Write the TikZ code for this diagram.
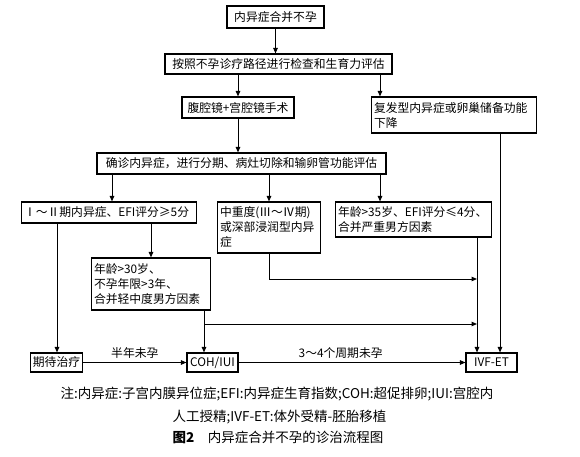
\documentclass[tikz,border=0pt]{standalone}
\usepackage{fontspec}
\setmainfont{Noto Sans CJK SC}
\usetikzlibrary{arrows.meta,positioning,calc}
\tikzset{
  box/.style={draw,line width=1.1pt,inner xsep=2.5pt,inner ysep=1pt,font=\fontsize{11.8}{15}\selectfont},
  tbox/.style={box,align=left},
  flow/.style={-{Triangle[length=5.5pt,width=4.5pt]},line width=1pt},
  lbl/.style={font=\fontsize{11.8}{14}\selectfont,inner sep=1pt},
  note/.style={font=\fontsize{13.5}{16}\selectfont,inner sep=0pt},
}

\begin{document}
\begin{tikzpicture}[x=1pt,y=-1pt]
\useasboundingbox (0,0) rectangle (580,457);
% column positions of the connectors
\coordinate (xWait) at (57,0);
\coordinate (xMild) at (112,0);
\coordinate (xCoh) at (204,0);
\coordinate (xMid) at (380,0);
\coordinate (xOld) at (477,0);
\coordinate (xRec) at (500,0);
\coordinate (hSev) at (0,279);
\coordinate (hRisk) at (0,324);

% boxes
\node[box,minimum width=97pt,minimum height=22pt] (start) at (275.5,17) {内异症合并不孕};
\node[box,minimum width=227pt,minimum height=20pt] (eval) at (278.5,64) {按照不孕诊疗路径进行检查和生育力评估};
\node[box,minimum width=112pt,minimum height=21pt] (surg) at (238,107.5) {腹腔镜+宫腔镜手术};
\node[tbox,text width=160pt,minimum height=36pt] (recur) at (454,115) {复发型内异症或卵巢储备功能\\下降};
\node[box,minimum width=289pt,minimum height=21pt] (diag) at (241.5,163.5) {确诊内异症，进行分期、病灶切除和输卵管功能评估};
\node[tbox,text width=170pt,minimum height=21pt] (mild) at (109,212.5) {Ⅰ～Ⅱ期内异症、EFI评分≥5分};
\node[tbox,text width=98pt,minimum height=51pt] (sev) at (269,227.5) {中重度(Ⅲ～Ⅳ期)\\或深部浸润型内异\\症};
\node[tbox,text width=151pt,minimum height=35pt] (old) at (413.5,219.5) {年龄>35岁、EFI评分≤4分、\\合并严重男方因素};
\node[tbox,text width=114pt,minimum height=52pt] (risk) at (151,284) {年龄>30岁、\\不孕年限>3年、\\合并轻中度男方因素};
\node[box,minimum width=51pt,minimum height=19pt] (wait) at (56.5,362.5) {期待治疗};
\node[box,minimum width=51pt,minimum height=19pt] (coh) at (212.5,362.5) {COH/IUI};
\node[box,minimum width=51pt,minimum height=19pt] (ivf) at (491.5,362.5) {IVF-ET};

% connectors
\draw[flow] (start.south) -- (start.south |- eval.north);
\draw[flow] (eval.south -| surg) -- (surg.north);
\draw[flow] (eval.south -| xMid) -- (xMid |- recur.north);
\draw[flow] (surg.south) -- (surg.south |- diag.north);
\draw[flow] (diag.south -| xMild) -- (xMild |- mild.north);
\draw[flow] (diag.south -| sev) -- (sev.north);
\draw[flow] (diag.south -| xMid) -- (xMid |- old.north);
\draw[flow] (mild.south -| xWait) -- (xWait |- wait.north);
\draw[flow] (mild.south -| risk) -- (risk.north);
\draw[flow] (risk.south -| xCoh) -- (xCoh |- coh.north);
\draw[flow] (sev.south) |- (xOld |- hSev);
\draw[flow] (xCoh |- hRisk) -- (xOld |- hRisk);
\draw[flow] (old.south -| xOld) -- (xOld |- ivf.north);
\draw[flow] (recur.south -| xRec) -- (xRec |- ivf.north);
\draw[flow] (wait) -- node[lbl,above=2pt] {半年未孕} (coh);
\draw[flow] (coh) -- node[lbl,above=2pt,pos=0.45] {3～4个周期未孕} (ivf);

% caption
\node[note] (note1) at (277,394) {注:内异症:子宫内膜异位症;EFI:内异症生育指数;COH:超促排卵;IUI:宫腔内};
\node[note] (note2) at (279.5,417) {人工授精;IVF-ET:体外受精-胚胎移植};
\node[note] (title) at (278,437) {\textbf{图2}\quad 内异症合并不孕的诊治流程图};
\end{tikzpicture}
\end{document}
